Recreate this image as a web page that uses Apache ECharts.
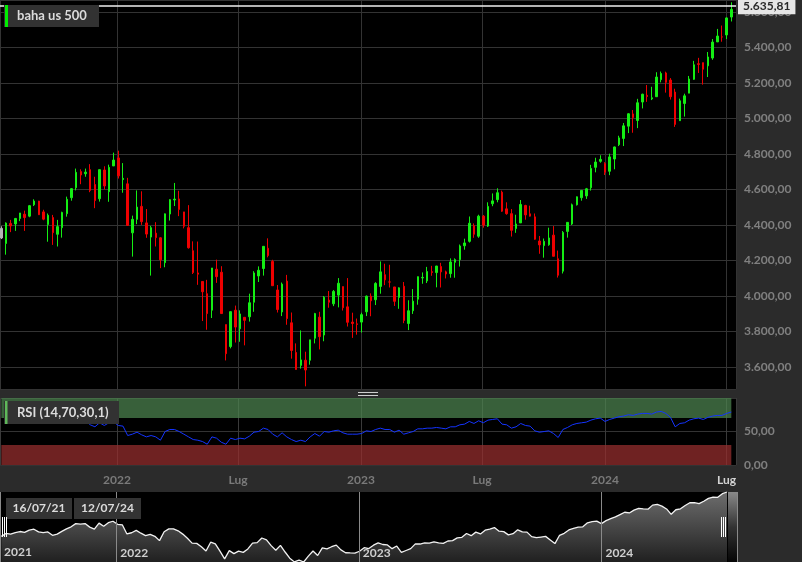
<!DOCTYPE html>
<html>
<head>
<meta charset="utf-8">
<script src="https://cdn.jsdelivr.net/npm/echarts@6.0.0/dist/echarts.min.js"></script>
<style>
html, body { margin: 0; padding: 0; background: #2b2b2b; }
#box { width: 802px; height: 562px; }
</style>
</head>
<body>
<div id="box"></div>
<script>
// settimane (lunedi di ogni candela)
var weeks = [
    '2021-07-12','2021-07-19','2021-07-26','2021-08-02','2021-08-09','2021-08-16','2021-08-23','2021-08-30','2021-09-06','2021-09-13','2021-09-20','2021-09-27','2021-10-04','2021-10-11','2021-10-18','2021-10-25','2021-11-01','2021-11-08','2021-11-15','2021-11-22','2021-11-29','2021-12-06','2021-12-13','2021-12-20','2021-12-27',
    '2022-01-03','2022-01-10','2022-01-17','2022-01-24','2022-01-31','2022-02-07','2022-02-14','2022-02-21','2022-02-28','2022-03-07','2022-03-14','2022-03-21','2022-03-28','2022-04-04','2022-04-11','2022-04-18','2022-04-25','2022-05-02','2022-05-09','2022-05-16','2022-05-23','2022-05-30','2022-06-06','2022-06-13','2022-06-20','2022-06-27','2022-07-04','2022-07-11','2022-07-18','2022-07-25','2022-08-01','2022-08-08','2022-08-15','2022-08-22','2022-08-29','2022-09-05','2022-09-12','2022-09-19','2022-09-26','2022-10-03','2022-10-10','2022-10-17','2022-10-24','2022-10-31','2022-11-07','2022-11-14','2022-11-21','2022-11-28','2022-12-05','2022-12-12','2022-12-19','2022-12-26',
    '2023-01-02','2023-01-09','2023-01-16','2023-01-23','2023-01-30','2023-02-06','2023-02-13','2023-02-20','2023-02-27','2023-03-06','2023-03-13','2023-03-20','2023-03-27','2023-04-03','2023-04-10','2023-04-17','2023-04-24','2023-05-01','2023-05-08','2023-05-15','2023-05-22','2023-05-29','2023-06-05','2023-06-12','2023-06-19','2023-06-26','2023-07-03','2023-07-10','2023-07-17','2023-07-24','2023-07-31','2023-08-07','2023-08-14','2023-08-21','2023-08-28','2023-09-04','2023-09-11','2023-09-18','2023-09-25','2023-10-02','2023-10-09','2023-10-16','2023-10-23','2023-10-30','2023-11-06','2023-11-13','2023-11-20','2023-11-27','2023-12-04','2023-12-11','2023-12-18','2023-12-25',
    '2024-01-01','2024-01-08','2024-01-15','2024-01-22','2024-01-29','2024-02-05','2024-02-12','2024-02-19','2024-02-26','2024-03-04','2024-03-11','2024-03-18','2024-03-25','2024-04-01','2024-04-08','2024-04-15','2024-04-22','2024-04-29','2024-05-06','2024-05-13','2024-05-20','2024-05-27','2024-06-03','2024-06-10','2024-06-17','2024-06-24','2024-07-01','2024-07-08'
];
var opens = [
    4381,4296,4409,4406,4437,4461,4450,4514,4535,4474,4403,4442,4348,4385,4464,4554,4610,4701,4689,4712,4628,4548,4710,4588,4733,
    4778,4656,4632,4356,4432,4505,4412,4332,4354,4328,4188,4462,4541,4547,4474,4385,4255,4130,4082,4013,3920,4151,4134,3839,3715,3920,3815,3880,3883,3965,4113,4155,4269,4195,4034,3910,4084,3849,3682,3609,3638,3638,3762,3881,3780,3977,3956,4005,4053,3939,3853,3843,
    3853,3911,3999,3979,4054,4120,4079,4051,3992,4055,3845,3917,3982,4102,4085,4137,4132,4166,4136,4126,4190,4205,4283,4308,4396,4337,4450,4394,4520,4543,4585,4491,4464,4380,4412,4510,4463,4446,4310,4284,4289,4343,4210,4140,4364,4406,4514,4554,4564,4610,4725,4759,
    4746,4703,4772,4853,4888,4957,5026,4989,5093,5131,5111,5123,5219,5257,5217,5149,4988,5085,5143,5221,5309,5315,5297,5341,5432,5460,5471,5572
];
var highs = [
    4393,4415,4429,4440,4468,4481,4513,4545,4536,4486,4465,4457,4429,4475,4560,4608,4718,4714,4718,4743,4672,4713,4731,4740,4808,
    4819,4749,4666,4453,4595,4590,4490,4395,4416,4331,4465,4546,4637,4593,4474,4512,4308,4307,4082,4091,4158,4205,4168,3839,3913,3946,3919,3880,4013,4140,4167,4281,4325,4204,4062,4076,4119,3907,3733,3806,3686,3753,3905,3911,4000,4028,4034,4101,4053,4101,3906,3873,
    3906,4003,4015,4078,4195,4182,4176,4051,4049,4079,3976,4039,4110,4133,4164,4170,4170,4187,4143,4212,4212,4290,4323,4448,4409,4458,4456,4528,4578,4607,4594,4528,4490,4458,4541,4514,4509,4465,4338,4324,4385,4394,4256,4366,4416,4521,4561,4595,4609,4739,4779,4793,
    4754,4802,4842,4903,4975,5030,5048,5111,5140,5189,5179,5261,5265,5264,5228,5168,5112,5140,5240,5325,5342,5315,5375,5448,5505,5524,5570,5655
];
var lows = [
    4321,4233,4360,4367,4422,4367,4444,4507,4457,4427,4306,4288,4279,4329,4447,4537,4595,4630,4672,4585,4495,4532,4600,4531,4733,
    4662,4582,4395,4222,4405,4401,4328,4115,4279,4157,4162,4425,4507,4450,4381,4267,4124,4063,3859,3810,3876,4074,3901,3637,3705,3738,3742,3722,3856,3911,4079,4115,4218,4057,3907,3887,3838,3647,3585,3591,3491,3613,3733,3699,3745,3934,3943,3936,3918,3828,3764,3782,
    3794,3887,3886,3949,4013,4061,4048,3944,3928,3847,3808,3899,3951,4069,4073,4114,4049,4048,4099,4103,4103,4166,4261,4301,4328,4328,4385,4389,4506,4528,4474,4458,4335,4356,4412,4430,4448,4317,4238,4216,4283,4223,4104,4127,4329,4400,4510,4537,4547,4594,4697,4751,
    4682,4681,4714,4845,4845,4918,4920,4946,5057,5094,5104,5123,5204,5146,5107,4953,4986,5011,5143,5218,5257,5191,5234,5331,5431,5433,5448,5547
];
var closes = [
    4327,4411,4395,4437,4468,4442,4509,4535,4458,4433,4455,4357,4391,4471,4545,4605,4697,4682,4698,4595,4538,4712,4620,4725,4766,
    4677,4663,4398,4432,4501,4419,4349,4385,4329,4204,4463,4543,4546,4488,4393,4272,4132,4123,4024,3901,4158,4109,3901,3675,3912,3825,3899,3863,3962,4130,4145,4280,4228,4058,3924,4067,3873,3693,3586,3640,3583,3753,3901,3771,3993,3965,4026,4072,3934,3852,3845,3840,
    3895,3999,3973,4071,4136,4091,4079,3970,4046,3862,3917,3971,4109,4105,4138,4133,4169,4136,4124,4192,4205,4282,4299,4410,4348,4450,4399,4505,4536,4582,4478,4464,4370,4406,4516,4457,4450,4320,4288,4308,4327,4224,4117,4358,4415,4514,4559,4595,4604,4719,4755,4770,
    4697,4784,4840,4891,4959,5027,5006,5089,5137,5124,5117,5234,5254,5204,5123,4967,5100,5128,5223,5303,5305,5278,5347,5431,5465,5460,5567,5615
];
// RSI(14)
var rsi = [
    null,null,null,null,null,null,null,null,null,null,null,null,null,null,
    62,66,70,68,66,60,57,63,59,63,64,
    59,58,44,46,49,45,42,44,42,37,50,
    53,53,50,46,42,38,37,35,31,42,40,
    34,31,40,38,40,39,43,49,50,55,53,
    46,42,48,42,38,35,37,35,
    42,47,43,50,49,51,52,48,46,46,46,
    47,51,50,53,55,53,53,49,52,46,48,50,
    54,54,55,55,56,55,54,57,57,60,61,65,62,66,63,67,68,69,
    61,60,55,57,62,59,58,51,49,50,51,47,41,
    53,56,60,62,63,64,67,69,70,65,68,70,72,73,75,
    74,76,77,77,76,79,80,77,71,57,62,63,67,69,70,68,71,73,74,74,77,79
];
var lastPrice = 5635.81;
var rangeLabels = ['16/07/21', '12/07/24'];
var instrument = 'baha us 500';
var rsiTitle = 'RSI (14,70,30,1)';

var DAY = 86400000;
function ts(s) { return Date.parse(s + 'T00:00:00Z'); }
function itNum(v) {
    var p = Number(v).toFixed(2).split('.');
    return p[0].replace(/\B(?=(\d{3})+(?!\d))/g, '.') + ',' + p[1];
}
var firstYear = weeks[0].substr(0, 4);
var lastYear = weeks[weeks.length - 1].substr(0, 4);
function halfYearLabel(v) {
    var d = new Date(v);
    if (d.getUTCMonth() === 0) return String(d.getUTCFullYear());
    if (String(d.getUTCFullYear()) === lastYear) return '{hi|Lug}';
    return 'Lug';
}

var candles = [], rsiData = [], navData = [];
for (var i = 0; i < weeks.length; i++) {
    var t = ts(weeks[i]);
    var item = { value: [t, opens[i], closes[i], lows[i], highs[i]] };
    if (i === 0) {
        item.itemStyle = { color: '#b4b4b4', color0: '#b4b4b4', borderColor: '#b4b4b4', borderColor0: '#b4b4b4' };
    }
    candles.push(item);
    rsiData.push([t, rsi[i]]);
    navData.push([t, closes[i]]);
}
var firstT = ts(weeks[0]), lastT = ts(weeks[weeks.length - 1]);

var myChart = echarts.init(document.getElementById('box'));
var gridStyle = { color: '#333', width: 1 };
var navText = { fill: '#cfcfcf', fontSize: 12, fontWeight: 'bold', fontFamily: 'Lato', verticalAlign: 'middle' };
var option = {
    backgroundColor: '#2b2b2b',
    animation: false,
    useUTC: true,
    textStyle: { fontFamily: 'Lato' },
    grid: [
        { left: 0, top: 0, width: 736, height: 389, show: true, backgroundColor: '#000', borderWidth: 0 },
        { left: 0, top: 398, width: 736, height: 67, show: true, backgroundColor: '#000', borderWidth: 0 },
        { left: 0, top: 492, width: 737, height: 70, show: true, backgroundColor: '#000', borderWidth: 0 }
    ],
    xAxis: [{
        type: 'time', gridIndex: 0,
        min: ts('2021-07-10'), max: ts('2024-07-15'),
        minInterval: 182.5 * DAY, maxInterval: 182.5 * DAY,
        axisLine: { show: false }, axisTick: { show: false }, axisLabel: { show: false },
        splitLine: { show: true, lineStyle: gridStyle }
    }, {
        type: 'time', gridIndex: 1,
        min: ts('2021-07-10'), max: ts('2024-07-15'),
        minInterval: 182.5 * DAY, maxInterval: 182.5 * DAY,
        axisLine: { show: false }, axisTick: { show: false },
        axisLabel: {
            formatter: halfYearLabel, color: '#7a7a7a', fontWeight: 'bold', fontSize: 12, margin: 9,
            showMinLabel: false, showMaxLabel: false,
            rich: { hi: { color: '#d4d4d4', fontWeight: 'bold', fontSize: 12 } }
        },
        splitLine: { show: true, lineStyle: { color: '#3a3a3a', width: 1 } }
    }, {
        type: 'time', gridIndex: 2, z: 5,
        min: ts('2021-07-10'), max: ts('2024-07-23'),
        minInterval: 365 * DAY, maxInterval: 365 * DAY,
        axisLine: { show: false }, axisTick: { show: false },
        axisLabel: {
            inside: true, align: 'left', padding: [0, 0, 0, 4], margin: 3,
            color: '#cfcfcf', fontWeight: 'bold', fontSize: 12,
            showMaxLabel: false,
            formatter: function (v) { return String(new Date(v).getUTCFullYear()); }
        },
        splitLine: { show: true, lineStyle: { color: '#8a8a8a', width: 1 } }
    }],
    yAxis: [{
        type: 'value', gridIndex: 0, position: 'right',
        min: 3476, max: 5668, splitNumber: 11,
        axisLine: { show: false }, axisTick: { show: false },
        axisLabel: {
            formatter: itNum, color: '#808080', fontWeight: 'bold', fontSize: 12, margin: 8,
            showMinLabel: false, showMaxLabel: false
        },
        splitLine: { show: true, lineStyle: gridStyle }
    }, {
        type: 'value', gridIndex: 1, position: 'right',
        min: 0, max: 100, interval: 50,
        axisLine: { show: false }, axisTick: { show: false },
        axisLabel: {
            formatter: function (v) { return v >= 100 ? '' : itNum(v); },
            color: '#808080', fontWeight: 'bold', fontSize: 12, margin: 8
        },
        splitLine: { show: true, lineStyle: gridStyle }
    }, {
        type: 'value', gridIndex: 2, min: 'dataMin', max: 'dataMax', show: false
    }],
    series: [{
        type: 'candlestick',
        xAxisIndex: 0, yAxisIndex: 0,
        barWidth: 2,
        clip: true,
        itemStyle: {
            color: '#14ee14', color0: '#ee0000',
            borderColor: '#14ee14', borderColor0: '#ee0000', borderWidth: 1
        },
        data: candles,
        markLine: {
            silent: true,
            symbol: 'none',
            lineStyle: { color: '#f0f0f0', width: 1.5, type: 'solid' },
            label: {
                position: 'end', distance: 2,
                formatter: itNum(lastPrice),
                backgroundColor: '#e6e6e6', color: '#2a2a2a',
                fontWeight: 'bold', fontSize: 12, padding: [3, 5, 2, 5]
            },
            data: [{ yAxis: lastPrice }]
        }
    }, {
        type: 'line',
        xAxisIndex: 1, yAxisIndex: 1,
        showSymbol: false,
        lineStyle: { color: '#1434ff', width: 1 },
        data: rsiData,
        z: 5,
        markArea: {
            silent: true,
            data: [
                [{ xAxis: firstT, yAxis: 70, itemStyle: { color: 'rgba(76,130,78,0.74)' } }, { xAxis: lastT, yAxis: 100 }],
                [{ xAxis: firstT, yAxis: 0, itemStyle: { color: 'rgba(150,46,46,0.74)' } }, { xAxis: lastT, yAxis: 30 }]
            ]
        }
    }, {
        type: 'line',
        xAxisIndex: 2, yAxisIndex: 2,
        showSymbol: false,
        z: 2,
        lineStyle: { color: '#f2f2f2', width: 1.3 },
        areaStyle: {
            color: new echarts.graphic.LinearGradient(0, 0, 0, 1, [
                { offset: 0, color: '#9c9c9c' },
                { offset: 1, color: '#2e2e2e' }
            ])
        },
        data: navData
    }],
    graphic: [
        // etichetta strumento
        { type: 'rect', z: 100, shape: { x: 4, y: 5, width: 95, height: 22 }, style: { fill: '#323232' } },
        { type: 'rect', z: 101, shape: { x: 5, y: 5, width: 3, height: 22 }, style: { fill: '#00ee00' } },
        { type: 'text', z: 101, x: 17, y: 16, style: { text: instrument, fill: '#dcdcdc', fontSize: 13, fontWeight: 'bold', fontFamily: 'Lato', verticalAlign: 'middle' } },
        // etichetta RSI
        { type: 'rect', z: 100, shape: { x: 4, y: 401, width: 115, height: 23 }, style: { fill: '#323232' } },
        { type: 'rect', z: 101, shape: { x: 5, y: 401, width: 2.5, height: 23 }, style: { fill: '#5fb85a' } },
        { type: 'text', z: 101, x: 17, y: 412.5, style: { text: rsiTitle, fill: '#dcdcdc', fontSize: 13, fontWeight: 'bold', fontFamily: 'Lato', verticalAlign: 'middle' } },
        // maniglia divisore
        { type: 'rect', z: 100, shape: { x: 358, y: 392, width: 20, height: 1 }, style: { fill: '#cfcfcf' } },
        { type: 'rect', z: 100, shape: { x: 358, y: 395, width: 20, height: 1 }, style: { fill: '#cfcfcf' } },
        // navigatore: anno iniziale
        { type: 'text', z: 101, x: 4, y: 552, style: Object.assign({ text: firstYear }, navText) },
        // navigatore: date
        { type: 'rect', z: 100, shape: { x: 6, y: 498, width: 66, height: 21 }, style: { fill: '#333' } },
        { type: 'text', z: 101, x: 39, y: 508.5, style: Object.assign({ text: rangeLabels[0], align: 'center' }, navText, { fill: '#dcdcdc' }) },
        { type: 'rect', z: 100, shape: { x: 74, y: 498, width: 67, height: 21 }, style: { fill: '#333' } },
        { type: 'text', z: 101, x: 107.5, y: 508.5, style: Object.assign({ text: rangeLabels[1], align: 'center' }, navText, { fill: '#dcdcdc' }) },
        // navigatore: maniglie
        { type: 'rect', z: 100, shape: { x: 2, y: 517, width: 1, height: 20 }, style: { fill: '#fff' } },
        { type: 'rect', z: 100, shape: { x: 4, y: 517, width: 1, height: 20 }, style: { fill: '#fff' } },
        { type: 'rect', z: 100, shape: { x: 6, y: 517, width: 1, height: 20 }, style: { fill: '#fff' } },
        { type: 'rect', z: 100, shape: { x: 728, y: 492, width: 9, height: 70 }, style: { fill: new echarts.graphic.LinearGradient(0, 0, 0, 1, [{ offset: 0, color: '#8a8a8a' }, { offset: 0.5, color: '#333' }, { offset: 1, color: '#050505' }]) } },
        { type: 'rect', z: 100, shape: { x: 721, y: 517, width: 1, height: 20 }, style: { fill: '#fff' } },
        { type: 'rect', z: 100, shape: { x: 723, y: 517, width: 1, height: 20 }, style: { fill: '#fff' } },
        { type: 'rect', z: 100, shape: { x: 725, y: 517, width: 1, height: 20 }, style: { fill: '#fff' } }
    ]
};
myChart.setOption(option);
</script>
</body>
</html>
